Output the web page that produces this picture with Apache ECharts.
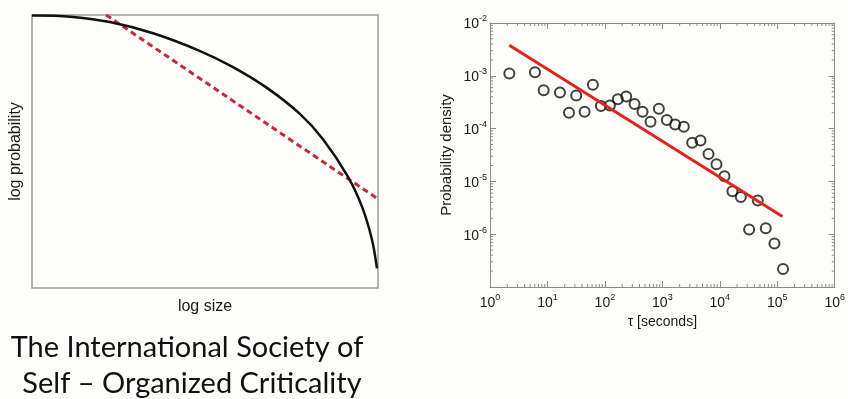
<!DOCTYPE html>
<html>
<head>
<meta charset="utf-8">
<script src="https://cdn.jsdelivr.net/npm/echarts@6/dist/echarts.min.js"></script>
<style>
  html, body { margin: 0; padding: 0; background: #fdfdfb; }
  #chart { width: 848px; height: 399px; }
</style>
</head>
<body>
<div id="chart"></div>
<script>
// left panel: schematic curve vs power law (unitless 0..10 box)
const curveX = [0, 1.10, 2.25, 3.50, 4.86, 5.81, 6.79, 7.75, 8.41, 9.13, 9.54, 9.83, 9.97];
const curveY = [9.98, 9.94, 9.74, 9.33, 8.68, 8.09, 7.33, 6.37, 5.45, 4.08, 2.97, 1.75, 0.72];
const powerLawX = [2.14, 10];
const powerLawY = [10, 3.26];

// right panel: measured probability density
const tau = [2.17, 6.06, 8.58, 16.5, 23.7, 31.7, 44.3, 61.8, 85.2, 122, 168, 235, 328, 452, 622,
  869, 1197, 1671, 2364, 3303, 4611, 6355, 8750, 12050, 16600, 23200, 32400, 45800, 63100, 89300, 126000];
const density = [1.10e-3, 1.17e-3, 5.35e-4, 4.83e-4, 2.0e-4, 4.24e-4, 2.08e-4, 6.74e-4, 2.67e-4,
  2.74e-4, 3.61e-4, 4.06e-4, 2.91e-4, 2.08e-4, 1.35e-4, 2.37e-4, 1.45e-4, 1.20e-4, 1.08e-4, 5.41e-5,
  5.98e-5, 3.30e-5, 2.11e-5, 1.25e-5, 6.51e-6, 5.09e-6, 1.23e-6, 4.34e-6, 1.30e-6, 6.68e-7, 2.19e-7];
const fitTau = [2.17, 123000];
const fitDensity = [3.79e-3, 2.16e-6];

const xMin = 1, xMax = 1e6;
const yMin = 1e-7, yMax = 1e-2;
const captionLines = ["The International Society of", "Self \u2013 Organized Criticality"];

const axisGray = "#8c8c8c";
const textDark = "#1a1a1a";
const font = "Liberation Sans, Arial, sans-serif";
const captionFont = "29px Lato, 'Open Sans', sans-serif";

// minor tick positions 2..9 inside each decade
const minorX = [];
for (let d = xMin; d < xMax; d *= 10) for (let m = 2; m <= 9; m++) minorX.push(d * m);
const minorY = [];
for (let d = yMin; d < yMax * 0.99; d *= 10) for (let m = 2; m <= 9; m++) minorY.push(d * m);

const zip = (a, b) => a.map((v, i) => [v, b[i]]);

const supLabel = (v) => "{b|10}{s|" + Math.round(Math.log10(v)) + "}";
const labelRich = {
  b: { fontSize: 14, fontFamily: font, color: textDark, lineHeight: 17, verticalAlign: "bottom" },
  s: { fontSize: 9, fontFamily: font, color: textDark, verticalAlign: "top" },
};

const logAxis = (extra) => Object.assign({
  type: "log",
  logBase: 10,
  gridIndex: 1,
  axisLine: { show: true, lineStyle: { color: axisGray, width: 1 } },
  axisTick: { show: true, inside: true, length: 6, lineStyle: { color: axisGray } },
  splitLine: { show: false },
}, extra);

const tickLine = (x1, y1, x2, y2) => ({
  type: "line",
  shape: { x1, y1, x2, y2 },
  style: { stroke: axisGray, lineWidth: 1 },
});

const el = document.getElementById("chart");
const chart = echarts.init(el, null, { renderer: "canvas" });

chart.setOption({
  backgroundColor: "#fdfdfb",
  animation: false,
  grid: [
    { left: 32, top: 15, width: 346, height: 273, show: true, borderColor: "#9a9a9a", borderWidth: 1.5 },
    { left: 490, top: 23, width: 345, height: 264 },
  ],
  xAxis: [
    {
      type: "value", gridIndex: 0, min: 0, max: 10,
      axisLine: { show: false }, axisTick: { show: false }, axisLabel: { show: false }, splitLine: { show: false },
      name: "log size", nameLocation: "middle", nameGap: 11,
      nameTextStyle: { fontSize: 16, fontFamily: font, color: textDark },
    },
    logAxis({
      min: xMin, max: xMax, position: "bottom", splitNumber: 6,
      axisLabel: { formatter: supLabel, rich: labelRich, margin: 6 },
      name: "\u03c4 [seconds]", nameLocation: "middle", nameGap: 26,
      nameTextStyle: { fontSize: 14, fontFamily: font, color: textDark },
    }),
    logAxis({ min: xMin, max: xMax, position: "top", splitNumber: 6, axisLabel: { show: false } }),
  ],
  yAxis: [
    {
      type: "value", gridIndex: 0, min: 0, max: 10,
      axisLine: { show: false }, axisTick: { show: false }, axisLabel: { show: false }, splitLine: { show: false },
      name: "log probability", nameLocation: "middle", nameGap: 8,
      nameTextStyle: { fontSize: 16, fontFamily: font, color: textDark },
    },
    logAxis({
      min: yMin, max: yMax, position: "left", splitNumber: 5,
      axisLabel: { formatter: supLabel, rich: labelRich, margin: 3, showMinLabel: false },
      name: "Probability density", nameLocation: "middle", nameGap: 36,
      nameTextStyle: { fontSize: 15, fontFamily: font, color: textDark },
    }),
    logAxis({ min: yMin, max: yMax, position: "right", splitNumber: 5, axisLabel: { show: false } }),
  ],
  graphic: [
    {
      type: "text", x: 187, y: 348,
      style: { text: captionLines[0], fill: "#111", font: captionFont, align: "center", verticalAlign: "middle" },
    },
    {
      type: "text", x: 192, y: 384,
      style: { text: captionLines[1], fill: "#111", font: captionFont, align: "center", verticalAlign: "middle" },
    },
  ],
  series: [
    {
      name: "power law", type: "line", xAxisIndex: 0, yAxisIndex: 0,
      data: zip(powerLawX, powerLawY), showSymbol: false, silent: true,
      lineStyle: { color: "#c42a3a", width: 3, type: [6, 4] },
    },
    {
      name: "curve", type: "line", xAxisIndex: 0, yAxisIndex: 0,
      data: zip(curveX, curveY), showSymbol: false, smooth: 0.3, silent: true,
      lineStyle: { color: "#111", width: 2.5 },
    },
    {
      name: "fit", type: "line", xAxisIndex: 1, yAxisIndex: 1,
      data: zip(fitTau, fitDensity), showSymbol: false, silent: true,
      lineStyle: { color: "#e3241c", width: 3 },
    },
    {
      name: "data", type: "scatter", xAxisIndex: 1, yAxisIndex: 1,
      data: zip(tau, density), symbol: "circle", symbolSize: 10, silent: true,
      itemStyle: { color: "rgba(0,0,0,0)", borderColor: "#111", borderWidth: 2 },
    },
    {
      name: "x minor ticks", type: "custom", xAxisIndex: 1, yAxisIndex: 1, silent: true,
      data: minorX.map((v) => [v, yMin]),
      renderItem: (params, api) => {
        const v = api.value(0);
        const b = api.coord([v, yMin]);
        const t = api.coord([v, yMax]);
        return { type: "group", children: [tickLine(b[0], b[1], b[0], b[1] - 3), tickLine(t[0], t[1], t[0], t[1] + 3)] };
      },
    },
    {
      name: "y minor ticks", type: "custom", xAxisIndex: 1, yAxisIndex: 1, silent: true,
      data: minorY.map((v) => [xMin, v]),
      renderItem: (params, api) => {
        const v = api.value(1);
        const l = api.coord([xMin, v]);
        const r = api.coord([xMax, v]);
        return { type: "group", children: [tickLine(l[0], l[1], l[0] + 3, l[1]), tickLine(r[0], r[1], r[0] - 3, r[1])] };
      },
    },
  ],
});
</script>
</body>
</html>
